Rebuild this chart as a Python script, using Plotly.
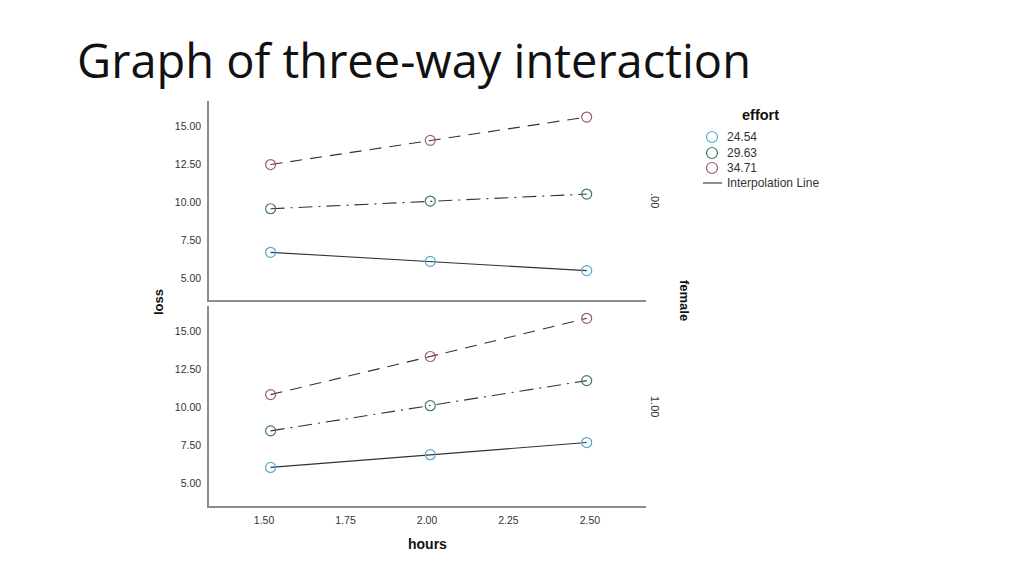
import plotly.graph_objects as go
from plotly.subplots import make_subplots

# --- DATA ---
hours = [1.52, 2.01, 2.49]
effort_levels = ['24.54', '29.63', '34.71']
female_levels = ['.00', '1.00']

# loss by female group, then effort level
loss_female0 = {
    '24.54': [6.70, 6.10, 5.49],
    '29.63': [9.58, 10.09, 10.55],
    '34.71': [12.50, 14.10, 15.64],
}
loss_female1 = {
    '24.54': [6.06, 6.90, 7.70],
    '29.63': [8.47, 10.13, 11.78],
    '34.71': [10.86, 13.37, 15.89],
}

x_ticks = [1.50, 1.75, 2.00, 2.25, 2.50]
y_ticks = [5.00, 7.50, 10.00, 12.50, 15.00]

# --- STYLE ---
marker_colors = {'24.54': '#52a9d2', '29.63': '#3e7b6c', '34.71': '#a2587a'}
line_dash = {'24.54': 'solid', '29.63': '14px,6px,2px,6px', '34.71': '12px,8px'}
AXIS_GREY = '#8c8c8c'
ARIAL = 'Arial, Liberation Sans'
TICK_FONT = dict(family=ARIAL, size=10.5, color='#333333')

# page body has an 8px margin, so convert screen pixels to paper coords with that offset
OFF = 8


def px(x):
    return (x - OFF) / 1024


def py(y):
    return 1 - (y - OFF) / 575


fig = make_subplots(rows=2, cols=1, shared_xaxes=True, vertical_spacing=0.01)

for row, data in [(1, loss_female0), (2, loss_female1)]:
    for lvl in effort_levels:
        fig.add_trace(go.Scatter(
            x=hours, y=data[lvl], mode='lines',
            line=dict(color='#333333', width=1.1, dash=line_dash[lvl]),
            showlegend=False, hoverinfo='skip'), row=row, col=1)
        fig.add_trace(go.Scatter(
            x=hours, y=data[lvl], mode='markers', name=lvl,
            marker=dict(symbol='circle-open', size=10, color=marker_colors[lvl],
                        line=dict(width=1.2)),
            showlegend=False), row=row, col=1)

fig.update_xaxes(domain=[px(209), px(646)], range=[1.331, 2.672], tickvals=x_ticks, tickformat='.2f',
                 showline=True, linecolor=AXIS_GREY, linewidth=1.5, showgrid=False,
                 zeroline=False, ticks='', tickfont=TICK_FONT, ticklabelstandoff=4)
fig.update_xaxes(showticklabels=False, row=1, col=1)
fig.update_yaxes(range=[3.55, 16.7], tickvals=y_ticks, tickformat='.2f',
                 showline=True, linecolor=AXIS_GREY, linewidth=1.5, showgrid=False,
                 zeroline=False, ticks='', tickfont=TICK_FONT, ticklabelstandoff=4)
fig.update_yaxes(domain=[py(300), py(101)], row=1, col=1)
fig.update_yaxes(domain=[py(505.5), py(306)], row=2, col=1)

label_font = dict(family=ARIAL, size=13, color='#111111')
strip_font = dict(family=ARIAL, size=11, color='#333333')
legend_font = dict(family=ARIAL, size=12, color='#333333')
annotations = [
    dict(text='<b>loss</b>', x=px(158), y=py(302), textangle=-90, font=label_font),
    dict(text='<b>hours</b>', x=px(427), y=py(544), font=dict(label_font, size=14)),
    dict(text='<b>female</b>', x=px(685), y=py(300), textangle=90, font=label_font),
    dict(text=female_levels[0], x=px(655), y=py(200), textangle=90, font=strip_font),
    dict(text=female_levels[1], x=px(655), y=py(406), textangle=90, font=strip_font),
    dict(text='<b>effort</b>', x=px(760), y=py(115), font=dict(label_font, size=14.5)),
]

# hand-built legend (SPSS style, tighter spacing than plotly's legend)
shapes = []
legend_rows = [py(137), py(153), py(168)]
for lvl, ly in zip(effort_levels, legend_rows):
    shapes.append(dict(type='circle', xref='paper', yref='paper', xsizemode='pixel', ysizemode='pixel',
                       xanchor=px(712), yanchor=ly, x0=-5.5, x1=5.5, y0=-5.5, y1=5.5,
                       line=dict(color=marker_colors[lvl], width=1.2)))
    annotations.append(dict(text=lvl, x=px(725), y=ly, xanchor='left', font=legend_font))
shapes.append(dict(type='line', xref='paper', yref='paper', x0=px(703), x1=px(722),
                   y0=py(183), y1=py(183), line=dict(color='#333333', width=1.1)))
annotations.append(dict(text='Interpolation Line', x=px(725), y=py(183), xanchor='left', font=legend_font))

for a in annotations:
    a.setdefault('xanchor', 'center')
    a.update(xref='paper', yref='paper', showarrow=False, yanchor='middle')

fig.update_layout(
    width=1024, height=575,
    margin=dict(l=0, r=0, t=0, b=0),
    paper_bgcolor='white', plot_bgcolor='white',
    showlegend=False,
    annotations=annotations,
    shapes=shapes,
    title=dict(text='Graph of three-way interaction', x=px(77), xanchor='left',
               y=py(62), yanchor='middle',
               font=dict(family='Open Sans', size=47, color='#111111')),
)

fig.write_html("out.html")
